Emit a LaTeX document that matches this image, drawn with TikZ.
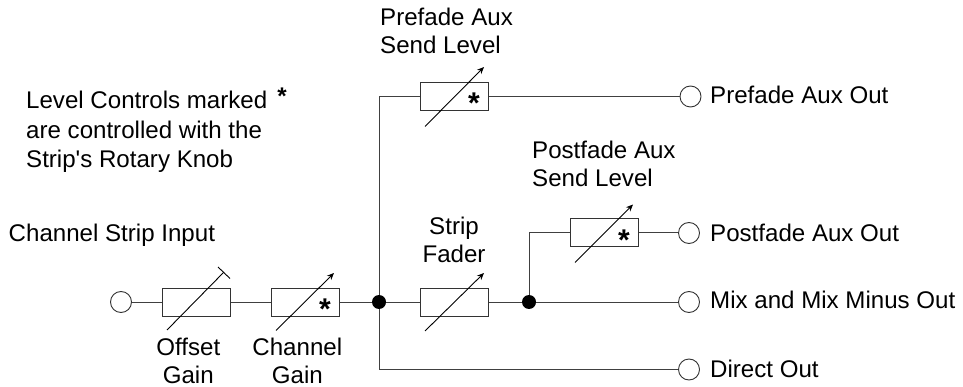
\documentclass[tikz,border=0pt]{standalone}
\usepackage{fontspec}
\setmainfont{Liberation Sans}
\usetikzlibrary{arrows.meta}
\newcommand{\straightquote}{\XeTeXglyph\XeTeXglyphindex "quotesingle"\relax}
\begin{document}
\begin{tikzpicture}[x=1pt,y=-1pt,
  wire/.style={draw=black!75,line width=1pt},
  ctrlbox/.style={draw=black!80,fill=white,line width=1pt,rectangle,minimum width=68pt,minimum height=28pt,inner sep=0pt},
  port/.style={draw=black!80,fill=white,line width=0.9pt,circle,minimum size=21pt,inner sep=0pt},
  joint/.style={fill=black,circle,minimum size=14pt,inner sep=0pt},
  slider/.style={draw=black,line width=0.9pt,-{Stealth[length=7pt,width=6pt]}},
  tslider/.style={draw=black,line width=0.9pt},
  lab/.style={font=\fontsize{24.1pt}{28pt}\selectfont,inner sep=0pt,align=center,anchor=base},
  labl/.style={lab,align=left,anchor=base west},
  star/.style={font=\fontsize{30pt}{30pt}\selectfont\bfseries,inner sep=0pt}
]
\useasboundingbox (0,0) rectangle (963,387);
% nodes
\node[port] (in) at (121,302) {};
\node[ctrlbox] (offset) at (196,302) {};
\node[ctrlbox] (chan) at (305,302) {};
\node[joint] (j1) at (379,302) {};
\node[ctrlbox] (pre) at (454,96.5) {};
\node[ctrlbox] (fader) at (454,302) {};
\node[joint] (j2) at (529,302) {};
\node[ctrlbox] (post) at (604,233) {};
\node[port] (preout) at (690.5,96.5) {};
\node[port] (postout) at (689,233) {};
\node[port] (mixout) at (689,302) {};
\node[port] (dirout) at (689,369.5) {};
\coordinate (c1) at (379,96.5);
\coordinate (c2) at (379,369.5);
\coordinate (c3) at (529,233);
% connectors
\draw[wire] (in) -- (offset);
\draw[wire] (offset) -- (chan);
\draw[wire] (chan) -- (j1);
\draw[wire] (j1) -- (fader);
\draw[wire] (fader) -- (j2);
\draw[wire] (j2) -- (mixout);
\draw[wire] (j1) -- (c1) -- (pre);
\draw[wire] (pre) -- (preout);
\draw[wire] (j1) -- (c2) -- (dirout);
\draw[wire] (j2) -- (c3) -- (post);
\draw[wire] (post) -- (postout);
% sliders
\coordinate (s1a) at (167,330); \coordinate (s1b) at (224,272);
\coordinate (t1a) at (218,267); \coordinate (t1b) at (230,278.5);
\draw[tslider] (s1a) -- (s1b);
\draw[tslider] (t1a) -- (t1b);
\coordinate (s2a) at (276,330.5); \coordinate (s2b) at (334,273);
\draw[slider] (s2a) -- (s2b);
\coordinate (s3a) at (425,126.5); \coordinate (s3b) at (484,67);
\draw[slider] (s3a) -- (s3b);
\coordinate (s4a) at (425,331); \coordinate (s4b) at (484,273);
\draw[slider] (s4a) -- (s4b);
\coordinate (s5a) at (575,262.5); \coordinate (s5b) at (633,204.5);
\draw[slider] (s5a) -- (s5b);
% asterisks
\node[star] (st1) at (325,309) {*};
\node[star] (st2) at (474,103) {*};
\node[star] (st3) at (624,240) {*};
% labels
\node[labl] (tin) at (8.5,241.7) {Channel Strip Input};
\node[lab] (toffset) at (188.3,383) {Offset\\Gain};
\node[lab] (tchan) at (297.3,383) {Channel\\Gain};
\node[labl] (tpre) at (380,54) {Prefade Aux\\Send Level};
\node[lab] (tfad) at (454,262.7) {Strip\\Fader};
\node[labl] (tpost) at (532,187) {Postfade Aux\\Send Level};
\node[labl] (tpreo) at (710,104) {Prefade Aux Out};
\node[labl] (tposto) at (710,241.7) {Postfade Aux Out};
\node[labl] (tmixo) at (710,308) {Mix and Mix Minus Out};
\node[labl] (tdiro) at (710,377) {Direct Out};
\node[labl,font=\fontsize{24.1pt}{29.8pt}\selectfont] (note) at (26,168) {Level Controls marked\hspace{10pt}\raisebox{4pt}{\bfseries *}\\are controlled with the\\Strip\straightquote s Rotary Knob};
\end{tikzpicture}
\end{document}
